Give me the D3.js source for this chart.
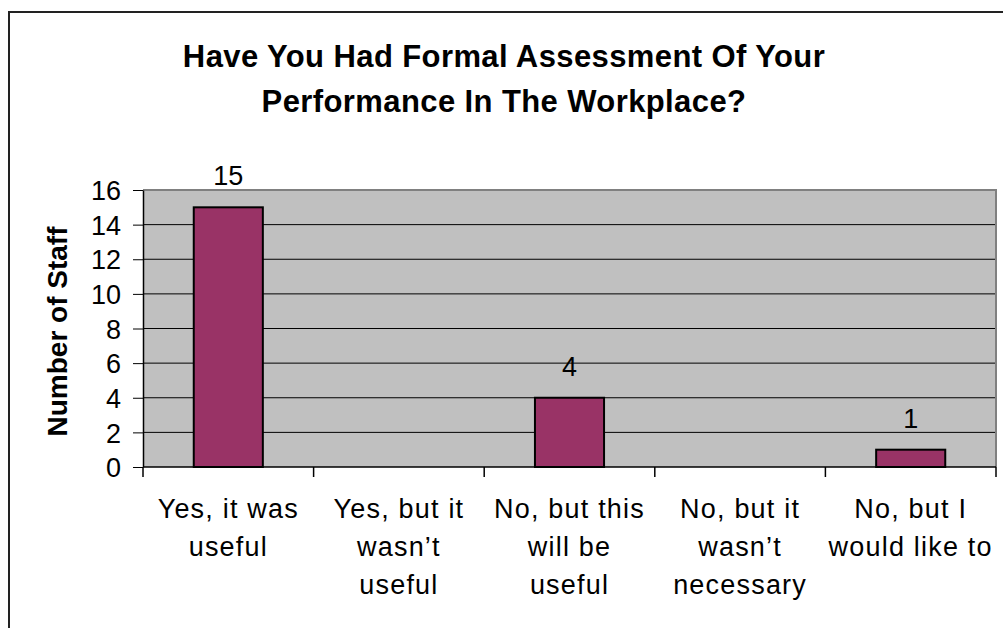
<!DOCTYPE html>
<html>
<head>
<meta charset="utf-8">
<script src="https://cdn.jsdelivr.net/npm/d3@7"></script>
<style>
  body { margin: 0; background: #fff; }
  text { font-family: "Liberation Sans", Arial, sans-serif; fill: #000; }
</style>
</head>
<body>
<div id="chart"></div>
<script>
let categories = ["Yes, it was useful", "Yes, but it wasn't useful", "No, but this will be useful",
                  "No, but it wasn't necessary", "No, but I would like to"];
let labelLines = [["Yes, it was", "useful"], ["Yes, but it", "wasn\u2019t", "useful"],
                  ["No, but this", "will be", "useful"], ["No, but it", "wasn\u2019t", "necessary"],
                  ["No, but I", "would like to"]];
let staff = [15, 0, 4, 0, 1];
let yTicks = [0, 2, 4, 6, 8, 10, 12, 14, 16];

let width = 1003, height = 628;
let margin = {top: 190, bottom: 161, left: 143, right: 7};

let svg = d3.select("#chart")
            .append("svg")
            .attr("width", width)
            .attr("height", height);

// outer chart border
svg.append("rect")
   .attr("x", 9).attr("y", 12)
   .attr("width", 1010).attr("height", 640)
   .attr("fill", "none")
   .attr("stroke", "#222")
   .attr("stroke-width", 2);

let xscale = d3.scaleBand()
               .domain(categories)
               .range([margin.left, width - margin.right])
               .padding(0);

let yscale = d3.scaleLinear()
               .domain([0, 16])
               .range([height - margin.bottom, margin.top]);

// plot background
svg.append("rect")
   .attr("x", margin.left).attr("y", margin.top)
   .attr("width", width - margin.right - margin.left)
   .attr("height", yscale(0) - margin.top)
   .attr("fill", "#c0c0c0");

// gridlines
svg.selectAll("line.grid")
   .data(yTicks.filter(d => d > 0 && d < 16))
   .enter()
   .append("line")
   .attr("class", "grid")
   .attr("x1", margin.left).attr("x2", width - margin.right)
   .attr("y1", d => yscale(d)).attr("y2", d => yscale(d))
   .attr("stroke", "#000").attr("stroke-width", 1);

// top and right frame in gray
svg.append("path")
   .attr("d", `M${margin.left},${margin.top}H${width - margin.right}V${yscale(0)}`)
   .attr("fill", "none")
   .attr("stroke", "#808080")
   .attr("stroke-width", 2);

// bars
let barW = xscale.bandwidth() * 0.405;
svg.selectAll("rect.bar")
   .data(staff.map((v, i) => ({cat: categories[i], v: v})).filter(d => d.v > 0))
   .enter()
   .append("rect")
   .attr("class", "bar")
   .attr("x", d => xscale(d.cat) + (xscale.bandwidth() - barW) / 2)
   .attr("y", d => yscale(d.v))
   .attr("width", barW)
   .attr("height", d => yscale(0) - yscale(d.v))
   .attr("fill", "#993366")
   .attr("stroke", "#000")
   .attr("stroke-width", 2);

// value labels
svg.selectAll("text.val")
   .data(staff.map((v, i) => ({cat: categories[i], v: v})).filter(d => d.v > 0))
   .enter()
   .append("text")
   .attr("class", "val")
   .attr("x", d => xscale(d.cat) + xscale.bandwidth() / 2)
   .attr("y", d => yscale(d.v) - 22)
   .attr("text-anchor", "middle")
   .attr("font-size", 27)
   .text(d => d.v);

// y axis
let yaxis = svg.append("g")
               .attr("transform", `translate(${margin.left},0)`)
               .call(d3.axisLeft(yscale).tickValues(yTicks).tickSize(10).tickSizeOuter(0).tickPadding(12));
yaxis.select(".domain").attr("stroke", "#000").attr("stroke-width", 1.5);
yaxis.selectAll(".tick line").attr("stroke", "#000");
yaxis.selectAll(".tick text")
     .attr("font-size", 27)
     .attr("font-family", "Liberation Sans, Arial, sans-serif")
     .attr("dy", "0.36em");

// x axis line and category boundary ticks
let y0 = yscale(0);
svg.append("line")
   .attr("x1", margin.left).attr("x2", width - margin.right)
   .attr("y1", y0).attr("y2", y0)
   .attr("stroke", "#000").attr("stroke-width", 1.5);

let bounds = categories.map(c => xscale(c)).concat([xscale.range()[1]]);
svg.selectAll("line.xtick")
   .data(bounds)
   .enter()
   .append("line")
   .attr("class", "xtick")
   .attr("x1", d => d).attr("x2", d => d)
   .attr("y1", y0).attr("y2", y0 + 10)
   .attr("stroke", "#000").attr("stroke-width", 1.5);

// x labels
let xl = svg.selectAll("text.xlab")
            .data(categories)
            .enter()
            .append("text")
            .attr("class", "xlab")
            .attr("text-anchor", "middle")
            .attr("font-size", 27)
            .attr("letter-spacing", 1.2);
xl.each(function(c, i) {
  let t = d3.select(this);
  labelLines[i].forEach((line, j) => {
    t.append("tspan")
     .attr("x", xscale(c) + xscale.bandwidth() / 2)
     .attr("y", 518 + j * 38)
     .text(line);
  });
});

// y axis title
svg.append("text")
   .attr("transform", `translate(67,${(yscale(0) + yscale(16)) / 2 + 3}) rotate(-90)`)
   .attr("text-anchor", "middle")
   .attr("font-size", 28)
   .attr("font-weight", "bold")
   .text("Number of Staff");

// chart title
let title = ["Have You Had Formal Assessment Of Your", "Performance In The Workplace?"];
svg.selectAll("text.title")
   .data(title)
   .enter()
   .append("text")
   .attr("class", "title")
   .attr("x", 504)
   .attr("y", (d, i) => 67 + i * 45)
   .attr("text-anchor", "middle")
   .attr("font-size", 31)
   .attr("font-weight", "bold")
   .attr("letter-spacing", 0.4)
   .text(d => d);
</script>
</body>
</html>
